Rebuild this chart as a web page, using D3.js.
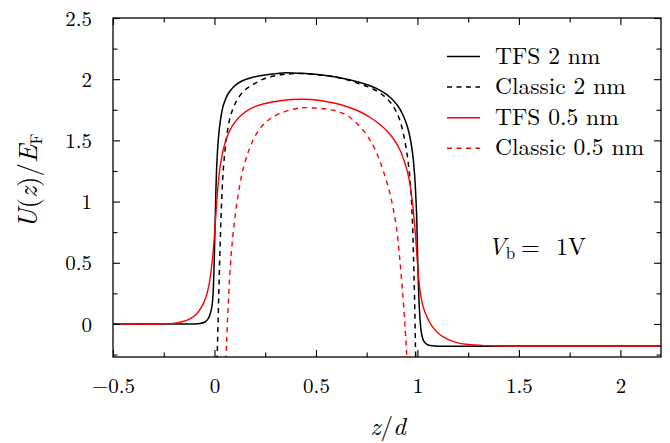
<!DOCTYPE html>
<html><head><meta charset="utf-8">
<script src="https://cdn.jsdelivr.net/npm/d3@7"></script>
<style>
body{margin:0;background:#fff}
</style>
</head><body>
<svg id="chart" width="670" height="443"></svg>
<script>
// ---- data (z/d, U/E_F) ----
const zTFS2 = [-0.5,-0.121,-0.071,-0.047,-0.030,-0.017,-0.009,-0.004,-0.0005,0.003,0.0064,0.0113,0.0187,0.0296,0.044,0.0665,0.096,0.135,0.185,0.249,0.337,0.421,0.520,0.618,0.717,0.776,0.825,0.869,0.904,0.931,0.951,0.966,0.977,0.985,0.991,0.996,0.9995,1.0034,1.0074,1.0123,1.0197,1.032,1.052,1.086,1.5,2.2];
const uTFS2 = [0,0,0.003,0.016,0.045,0.106,0.196,0.359,0.564,0.809,1.054,1.299,1.503,1.667,1.789,1.879,1.940,1.985,2.014,2.034,2.051,2.048,2.036,2.011,1.973,1.940,1.900,1.846,1.781,1.699,1.609,1.503,1.381,1.242,1.078,0.891,0.645,0.400,0.196,0.049,-0.074,-0.143,-0.172,-0.180,-0.18,-0.18];

const zCl2 = [0.0113,0.0148,0.0192,0.0236,0.0286,0.0345,0.0433,0.0567,0.0764,0.106,0.145,0.195,0.257,0.337,0.421,0.520,0.618,0.717,0.776,0.825,0.865,0.894,0.916,0.933,0.948,0.960,0.968,0.974,0.979,0.983,0.987,0.990,0.993];
const uCl2 = [-0.376,-0.172,0.114,0.400,0.686,0.972,1.258,1.487,1.683,1.814,1.904,1.961,2.012,2.038,2.047,2.034,2.010,1.961,1.924,1.875,1.814,1.740,1.650,1.536,1.397,1.242,1.078,0.891,0.645,0.400,0.114,-0.172,-0.417];

const zTFS05 = [-0.5,-0.268,-0.204,-0.160,-0.121,-0.086,-0.062,-0.042,-0.027,-0.015,-0.005,0.0025,0.0089,0.0163,0.0271,0.0419,0.0616,0.091,0.1305,0.180,0.239,0.323,0.436,0.520,0.594,0.658,0.717,0.771,0.815,0.855,0.889,0.914,0.933,0.951,0.965,0.975,0.984,0.992,0.999,1.006,1.015,1.027,1.047,1.071,1.101,1.140,1.190,1.249,1.333,1.505,2.2];
const uTFS05 = [0,0,0.005,0.018,0.042,0.086,0.143,0.221,0.319,0.458,0.621,0.784,0.948,1.111,1.275,1.413,1.528,1.626,1.703,1.761,1.797,1.824,1.836,1.826,1.803,1.773,1.734,1.683,1.630,1.569,1.495,1.422,1.340,1.242,1.127,0.997,0.850,0.686,0.523,0.376,0.245,0.147,0.057,-0.016,-0.074,-0.118,-0.150,-0.168,-0.177,-0.18,-0.18];

const zCl05 = [0.054,0.059,0.0665,0.0754,0.0862,0.101,0.118,0.140,0.170,0.209,0.259,0.323,0.421,0.520,0.594,0.658,0.717,0.766,0.805,0.835,0.860,0.879,0.897,0.911,0.924,0.936,0.946,0.953];
const uCl05 = [-0.376,-0.172,0.114,0.400,0.645,0.874,1.070,1.258,1.422,1.560,1.658,1.720,1.765,1.761,1.744,1.699,1.612,1.503,1.373,1.234,1.095,0.956,0.784,0.564,0.319,0.049,-0.212,-0.417];

const seriesNames = ["TFS 2 nm","Classic 2 nm","TFS 0.5 nm","Classic 0.5 nm"];
const xMajor = [-0.5,0,0.5,1,1.5,2];
const xMinor = [-0.25,0.25,0.75,1.25,1.75];
const yMajor = [0,0.5,1,1.5,2,2.5];
const yMinor = [-0.25,0.25,0.75,1.25,1.75,2.25];

// ---- layout ----
const L=113, R=661, T=18, B=357;
const FONT = '"Latin Modern Roman"';
const svg = d3.select("#chart");
const x = d3.scaleLinear().domain([-0.5,2.2]).range([L,R]);
const y = d3.scaleLinear().domain([-0.27,2.5]).range([B,T]);

const series = [
  {name:seriesNames[0], z:zTFS2, u:uTFS2, color:"#000", dash:null, w:1.5},
  {name:seriesNames[1], z:zCl2, u:uCl2, color:"#000", dash:"5,4.5", w:1.5},
  {name:seriesNames[2], z:zTFS05, u:uTFS05, color:"#ff0000", dash:null, w:1.4},
  {name:seriesNames[3], z:zCl05, u:uCl05, color:"#ff0000", dash:"5,4.5", w:1.4}
];

svg.append("defs").append("clipPath").attr("id","clip")
  .append("rect").attr("x",L).attr("y",T).attr("width",R-L).attr("height",B-T);

const line = d3.line().x(d=>x(d[0])).y(d=>y(d[1])).curve(d3.curveCatmullRom.alpha(0.5));
const g = svg.append("g").attr("clip-path","url(#clip)");
series.forEach(s=>{
  g.append("path").datum(s.z.map((z,i)=>[z,s.u[i]]))
   .attr("d",line).attr("fill","none").attr("stroke",s.color)
   .attr("stroke-width",s.w).attr("stroke-dasharray",s.dash);
});

// ---- axes (inward ticks on all four sides) ----
const fmt = d => (d<0?"\u2212":"") + Math.abs(d);
const MAJ=7, MIN=4.5;
function addAxis(axisFn, scale, vals, size, tr, labels){
  const a = svg.append("g").attr("transform",tr)
    .call(axisFn(scale).tickValues(vals).tickSize(size).tickFormat(labels?fmt:""));
  a.select(".domain").remove();
  a.attr("font-family",null);
  a.selectAll("line").attr("stroke","#000").attr("stroke-width",1.1);
  return a;
}
const xb = addAxis(d3.axisBottom, x, xMajor, -MAJ, `translate(0,${B})`, true);
addAxis(d3.axisBottom, x, xMinor, -MIN, `translate(0,${B})`, false);
addAxis(d3.axisTop, x, xMajor, -MAJ, `translate(0,${T})`, false);
addAxis(d3.axisTop, x, xMinor, -MIN, `translate(0,${T})`, false);
const yl = addAxis(d3.axisLeft, y, yMajor, -MAJ, `translate(${L},0)`, true);
addAxis(d3.axisLeft, y, yMinor, -MIN, `translate(${L},0)`, false);
addAxis(d3.axisRight, y, yMajor, -MAJ, `translate(${R},0)`, false);
addAxis(d3.axisRight, y, yMinor, -MIN, `translate(${R},0)`, false);

xb.selectAll("text").attr("y",36).attr("dy",null).attr("fill","#000")
  .style("font-size","21px").style("font-family",FONT);
yl.selectAll("text").attr("x",-21).attr("dy","0.34em").attr("fill","#000")
  .style("font-size","21px").style("font-family",FONT);

svg.append("rect").attr("x",L).attr("y",T).attr("width",R-L).attr("height",B-T)
  .attr("fill","none").attr("stroke","#000").attr("stroke-width",1.3);

// ---- axis titles ----
const xt = svg.append("text").attr("x",388).attr("y",435).attr("text-anchor","middle")
  .style("font-size","25px").style("font-family",FONT);
xt.append("tspan").attr("font-style","italic").text("z");
xt.append("tspan").text("/");
xt.append("tspan").attr("font-style","italic").text("d");

const yt = svg.append("text").attr("transform","translate(37,181) rotate(-90)").attr("text-anchor","middle")
  .style("font-size","27px").style("font-family",FONT);
yt.append("tspan").attr("font-style","italic").text("U");
yt.append("tspan").text("(");
yt.append("tspan").attr("font-style","italic").text("z");
yt.append("tspan").text(")/");
yt.append("tspan").attr("font-style","italic").text("E");
yt.append("tspan").attr("dy",5).style("font-size","17px").text("F");

// ---- legend ----
const lg = svg.append("g");
series.forEach((s,i)=>{
  const yy = 56.5 + i*30.6;
  lg.append("line").attr("x1",447).attr("x2",480).attr("y1",yy).attr("y2",yy)
    .attr("stroke",s.color).attr("stroke-width",s.w).attr("stroke-dasharray",s.dash);
  lg.append("text").attr("x",495).attr("y",yy+7).style("font-size","23.5px").style("font-family",FONT).text(s.name);
});

// ---- annotation ----
const an = svg.append("text").attr("x",488).attr("y",255).style("font-size","24px").style("font-family",FONT);
an.append("tspan").attr("font-style","italic").text("V");
an.append("tspan").attr("dy",4).style("font-size","17px").text("b");
an.append("tspan").attr("dy",-4).attr("x",521).text("=");
an.append("tspan").attr("x",556).text("1");
an.append("tspan").attr("x",568).text("V");
</script>
</body></html>
